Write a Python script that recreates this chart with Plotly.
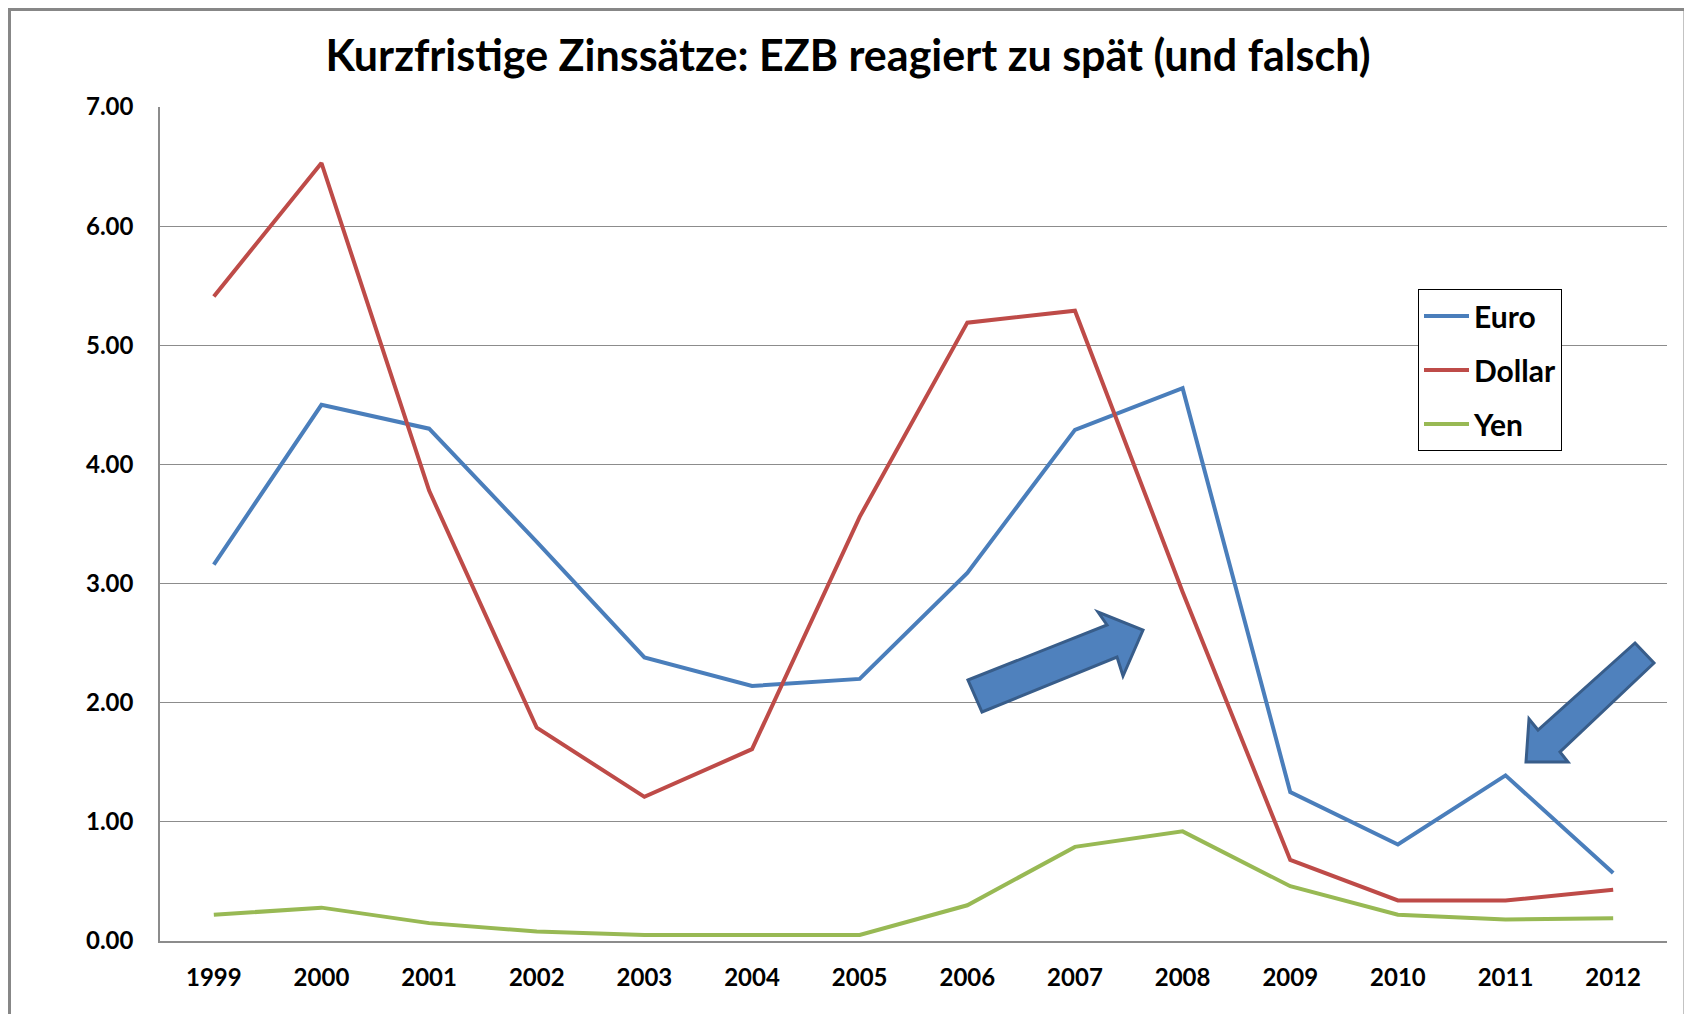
import plotly.graph_objects as go

# ---------------- data ----------------
years = ["1999", "2000", "2001", "2002", "2003", "2004", "2005",
         "2006", "2007", "2008", "2009", "2010", "2011", "2012"]
euro = [3.16, 4.50, 4.30, 3.35, 2.38, 2.14, 2.20, 3.09, 4.29, 4.64, 1.25, 0.81, 1.39, 0.57]
dollar = [5.41, 6.53, 3.78, 1.79, 1.21, 1.61, 3.56, 5.19, 5.29, 2.93, 0.68, 0.34, 0.34, 0.43]
yen = [0.22, 0.28, 0.15, 0.08, 0.05, 0.05, 0.05, 0.30, 0.79, 0.92, 0.46, 0.22, 0.18, 0.19]
y_ticks = [0, 1, 2, 3, 4, 5, 6, 7]
title_text = "Kurzfristige Zinssätze: EZB reagiert zu spät (und falsch)"

# ---------------- layout constants ----------------
OFF = 8                              # default page body margin
W, H = 1692 - OFF, 1014 - OFF        # figure size
# plot area in page pixels
PL, PR, PT, PB = 160, 1667, 107, 941
L, R, T, B = PL - OFF, PR - OFF, PT - OFF, PB - OFF
FONT = "Lato"


def pp(x, y):
    """page pixel -> paper coordinates"""
    return (x - PL) / (PR - PL), (PB - y) / (PB - PT)


def path(points):
    s = ""
    for i, (x, y) in enumerate(points):
        px, py = pp(x, y)
        s += ("M" if i == 0 else "L") + f"{px:.5f},{py:.5f} "
    return s + "Z"


fig = go.Figure()
series = [("Euro", euro, "#4A7EBB"), ("Dollar", dollar, "#BE4B48"), ("Yen", yen, "#98B954")]
for i, (name, vals, col) in enumerate(series):
    fig.add_trace(go.Scatter(
        x=years, y=vals, name=name, mode="lines",
        line=dict(color=col, width=4),
        legendgroup=f"g{i}",
    ))

arrow1 = [(968, 680), (1107, 625), (1098, 612), (1143, 630), (1123, 676), (1117, 657), (982, 712)]
arrow2 = [(1635, 643), (1654, 663), (1560, 752), (1568, 762), (1526, 762), (1529, 719), (1538, 730)]

shapes = []
for a in (arrow1, arrow2):
    shapes.append(dict(type="path", xref="paper", yref="paper", path=path(a),
                       fillcolor="#4F81BD", line=dict(color="#385D8A", width=3), layer="above"))

bx0, by0 = pp(OFF + 1.5, 1040)
bx1, by1 = pp(1685, OFF + 1.5)
shapes.append(dict(type="rect", xref="paper", yref="paper", x0=bx0, y0=by0, x1=bx1, y1=by1,
                   line=dict(color="#878787", width=3), fillcolor="rgba(0,0,0,0)", layer="below"))

lx, ly = pp(1418, 289)

fig.update_layout(
    width=W, height=H,
    margin=dict(l=L, r=W - R, t=T, b=H - B),
    paper_bgcolor="white", plot_bgcolor="white",
    font=dict(family=FONT, color="black"),
    title=dict(text=title_text, x=(848 - OFF) / W, xanchor="center", xref="container",
               y=1 - (56 - OFF) / H, yanchor="middle",
               font=dict(family=FONT, size=43, weight="bold", color="black")),
    xaxis=dict(type="category", range=[-0.5, 13.5], showgrid=False,
               showline=True, linecolor="#8C8C8C", linewidth=1.5,
               ticks="", ticklabelstandoff=14,
               tickfont=dict(family=FONT, size=24, weight="bold", color="black")),
    yaxis=dict(range=[0, 7], tickvals=y_ticks, tickformat=".2f",
               showgrid=True, gridcolor="#8C8C8C", gridwidth=1,
               showline=True, linecolor="#8C8C8C", linewidth=1.5,
               zeroline=False, ticks="", ticklabelstandoff=20,
               tickfont=dict(family=FONT, size=24, weight="bold", color="black")),
    legend=dict(x=lx, y=ly, xanchor="left", yanchor="top",
                bgcolor="white", bordercolor="black", borderwidth=1,
                traceorder="grouped", tracegroupgap=12, itemwidth=45,
                font=dict(family=FONT, size=30, weight="bold", color="black")),
    shapes=shapes,
    showlegend=True,
)

fig.write_html("out.html")
